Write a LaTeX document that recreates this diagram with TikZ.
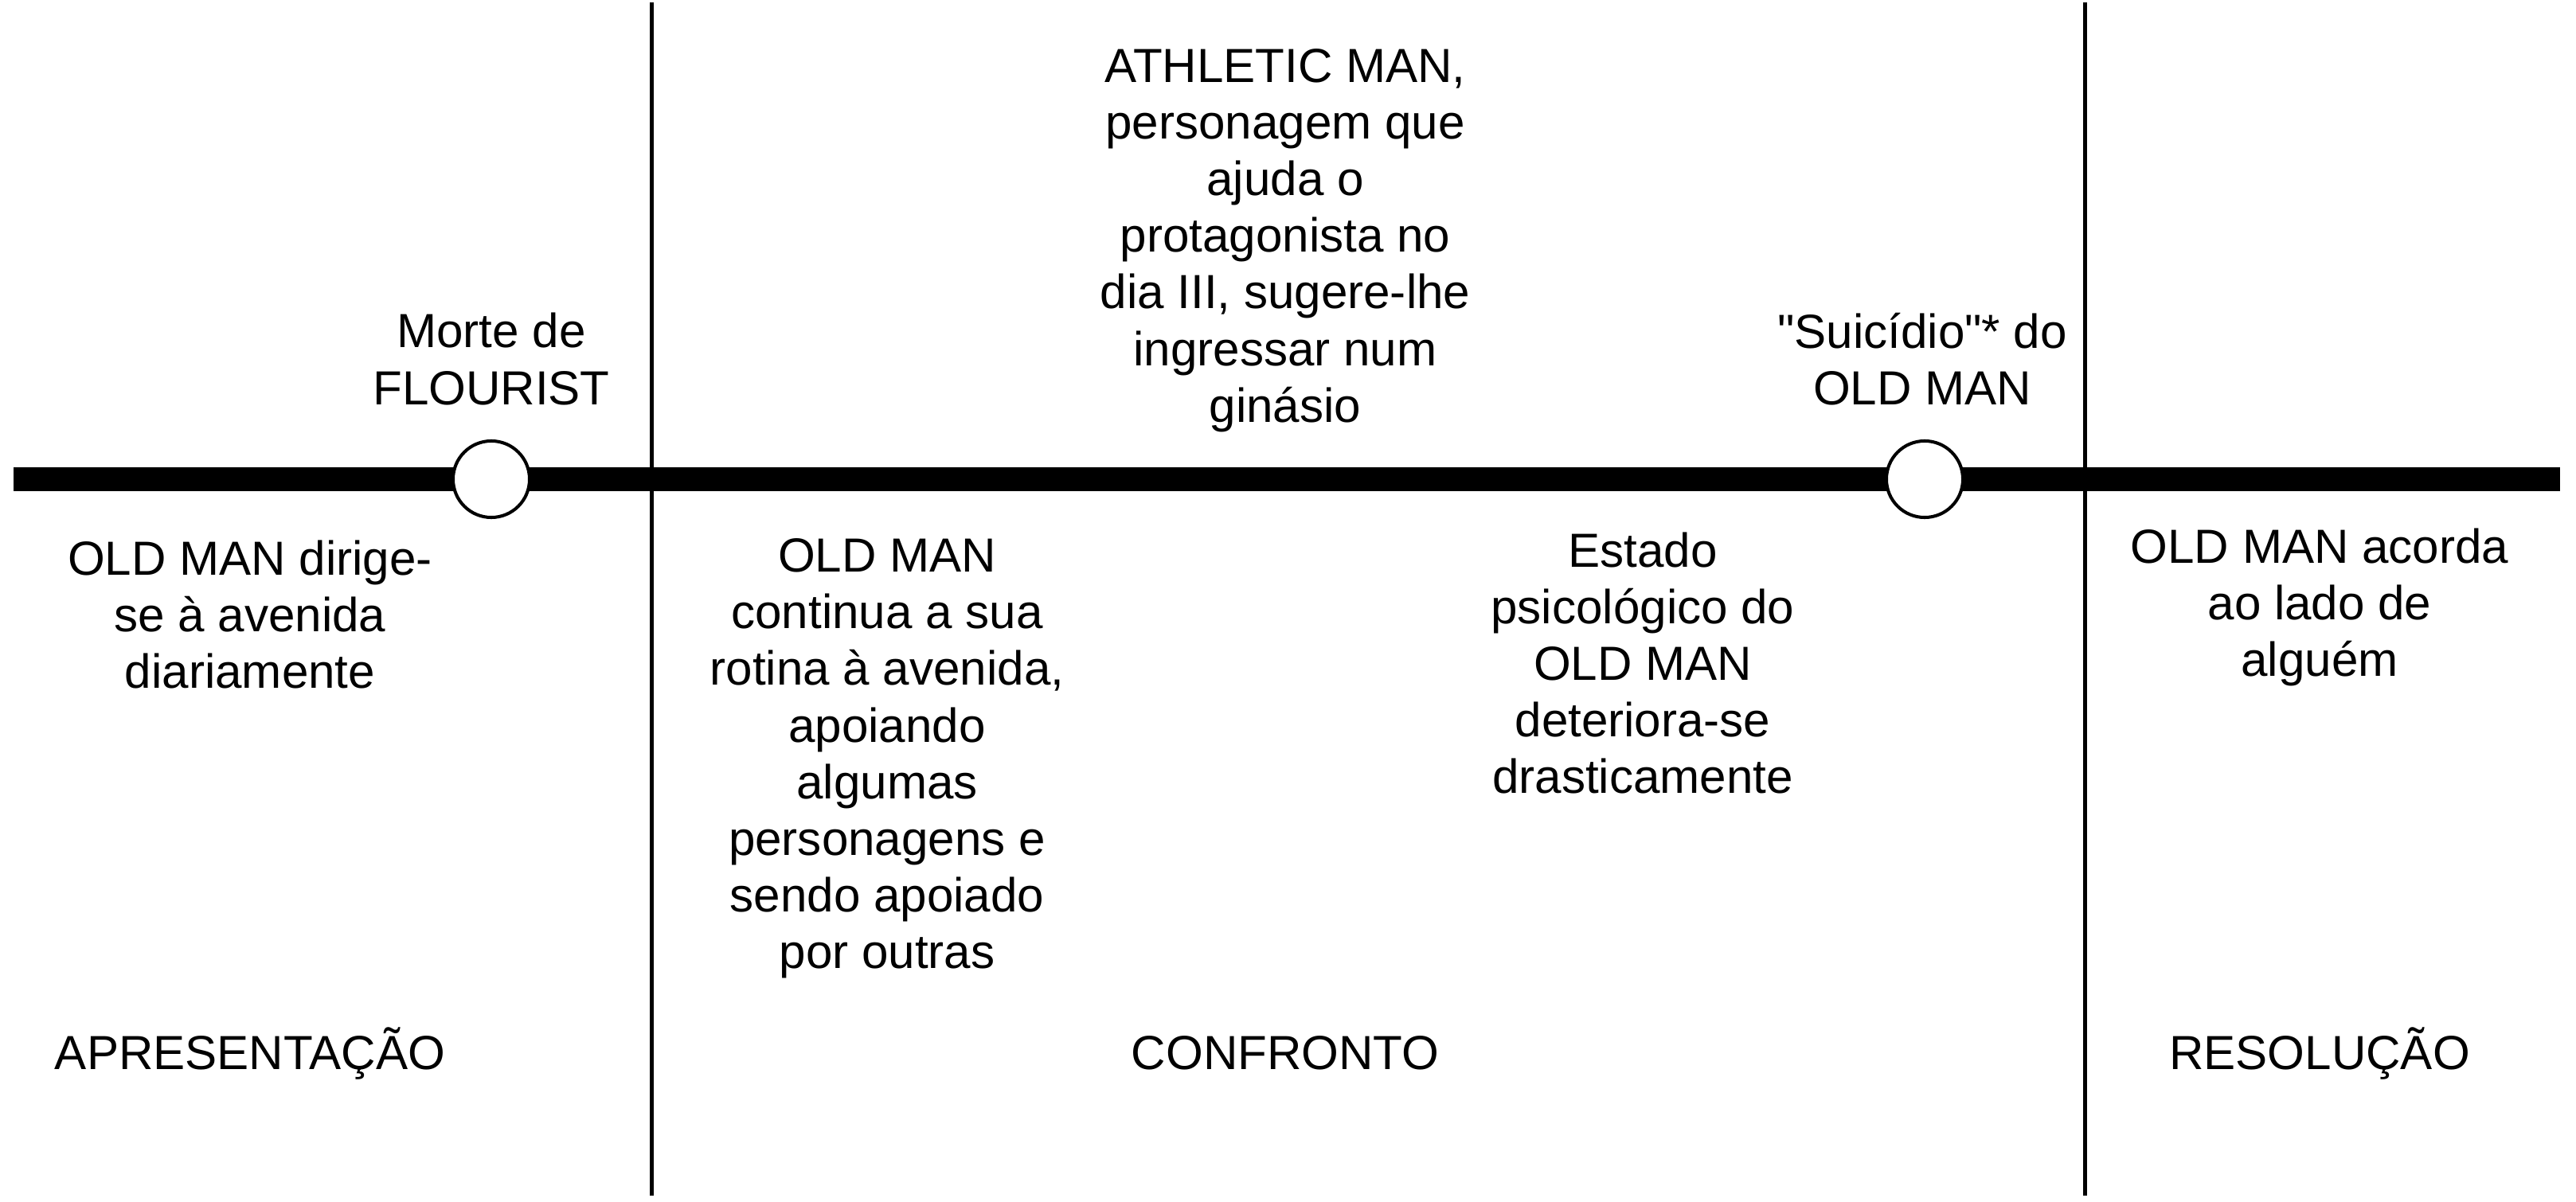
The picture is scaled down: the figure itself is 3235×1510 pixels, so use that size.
\documentclass[tikz,border=0pt]{standalone}
\usepackage{fontspec}
\setmainfont{Liberation Sans}[Ligatures=TeXOff]
\usetikzlibrary{positioning}
\tikzset{
	tlabel/.style={align=center, font=\fontsize{17.1}{20.25}\selectfont, inner sep=0pt},
	tevent/.style={circle, draw=black, fill=white, line width=1.15pt, minimum size=0.96cm, inner sep=0pt},
	tline/.style={line width=0.3cm, draw=black},
	tsep/.style={line width=0.05cm, draw=black}
}

\begin{document}
\begin{tikzpicture}[x=0.01cm, y=-0.01cm]
	\useasboundingbox (0,0) rectangle (3235,1510);
	% timeline
	\coordinate (tstart) at (17,602);
	\coordinate (tend) at (3215,602);
	\draw[tline] (tstart) -- (tend);
	% act separators
	\coordinate (sepatop) at (818,3);
	\coordinate (sepabot) at (818,1502);
	\coordinate (sepbtop) at (2618,3);
	\coordinate (sepbbot) at (2618,1502);
	\draw[tsep] (sepatop) -- (sepabot);
	\draw[tsep] (sepbtop) -- (sepbbot);
	% events
	\node[tevent] (flourist) at (617,602) {};
	\node[tevent] (suicidio) at (2417,602) {};
	\node[tlabel] (flouristtxt) at (617,451) {Morte de\\FLOURIST};
	\node[tlabel] (suicidiotxt) at (2414,451) {"Suicídio"* do\\OLD MAN};
	\node[tlabel] (athletic) at (1614,302) {ATHLETIC MAN,\\personagem que\\ajuda o\\protagonista no\\dia III, sugere-lhe\\ingressar num\\ginásio};
	% descriptions
	\node[tlabel] (dirige) at (314,772) {OLD MAN dirige-\\se à avenida\\diariamente};
	\node[tlabel] (continua) at (1114,953) {OLD MAN\\continua a sua\\rotina à avenida,\\apoiando\\algumas\\personagens e\\sendo apoiado\\por outras};
	\node[tlabel] (estado) at (2063,833) {Estado\\psicológico do\\OLD MAN\\deteriora-se\\drasticamente};
	\node[tlabel] (acorda) at (2913,763) {OLD MAN acorda\\ao lado de\\alguém};
	% acts
	\node[tlabel] (apresentacao) at (314,1323) {APRESENTAÇÃO};
	\node[tlabel] (confronto) at (1614,1323) {CONFRONTO};
	\node[tlabel] (resolucao) at (2913,1323) {RESOLUÇÃO};
\end{tikzpicture}
\end{document}
